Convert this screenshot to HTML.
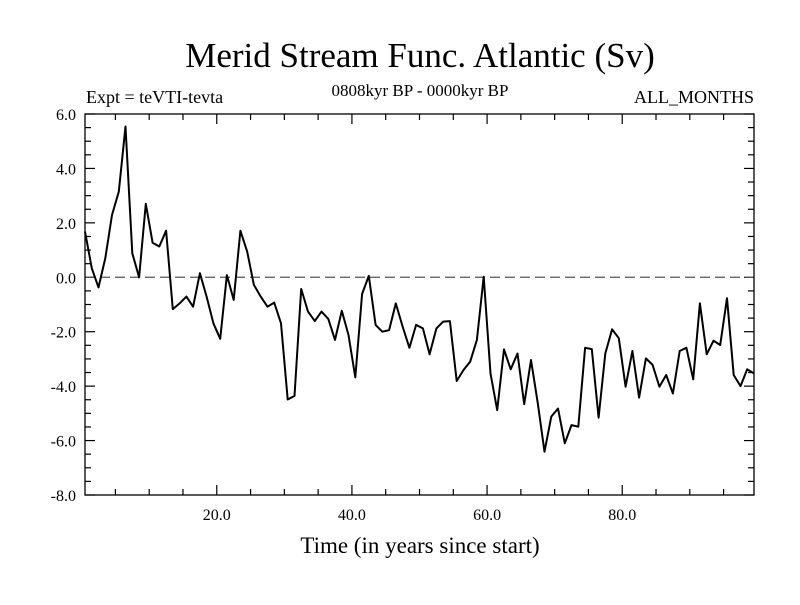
<!DOCTYPE html>
<html><head><meta charset="utf-8"><style>
body{margin:0;background:#fff}
svg text{font-family:"Liberation Serif",serif;fill:#000}
</style></head><body>
<svg width="800" height="600" xmlns="http://www.w3.org/2000/svg">
<text x="420" y="67" font-size="35" text-anchor="middle">Merid Stream Func. Atlantic (Sv)</text>
<text x="86" y="103" font-size="18">Expt = teVTI-tevta</text>
<text x="420" y="96" font-size="17" text-anchor="middle">0808kyr BP - 0000kyr BP</text>
<text x="754" y="103" font-size="18" text-anchor="end">ALL_MONTHS</text>
<text x="420" y="553" font-size="23" text-anchor="middle">Time (in years since start)</text>
<g id="axes"></g>
<line id="zero" stroke="#555" stroke-width="1.3" stroke-dasharray="10,5"/>
<path id="series" fill="none" stroke="#000" stroke-width="2" stroke-linejoin="round"/>
<rect x="85" y="114" width="669" height="381" fill="none" stroke="#000" stroke-width="1.3"/>
</svg>
<script>
const years = [];
for (let i = 0; i < 100; i++) years.push(i + 0.5);
const values = [1.68,0.33,-0.37,0.7,2.29,3.15,5.54,0.88,0.0,2.7,1.27,1.13,1.71,-1.17,-0.96,-0.71,-1.08,0.15,-0.71,-1.69,-2.26,0.08,-0.83,1.71,0.94,-0.28,-0.71,-1.08,-0.93,-1.69,-4.49,-4.36,-0.43,-1.26,-1.61,-1.26,-1.53,-2.3,-1.23,-2.12,-3.68,-0.61,0.05,-1.75,-2.0,-1.94,-0.96,-1.81,-2.59,-1.75,-1.88,-2.83,-1.88,-1.63,-1.61,-3.81,-3.41,-3.1,-2.3,0.02,-3.53,-4.88,-2.65,-3.38,-2.8,-4.66,-3.04,-4.63,-6.41,-5.12,-4.82,-6.1,-5.43,-5.49,-2.59,-2.64,-5.16,-2.8,-1.91,-2.24,-4.02,-2.71,-4.42,-2.98,-3.22,-4.02,-3.59,-4.27,-2.71,-2.59,-3.75,-0.96,-2.83,-2.33,-2.49,-0.77,-3.59,-4.0,-3.38,-3.53];
const yTicks = [6,4,2,0,-2,-4,-6,-8];
const yTickLabels = ["6.0","4.0","2.0","0.0","-2.0","-4.0","-6.0","-8.0"];
const xTicks = [20,40,60,80];
const xTickLabels = ["20.0","40.0","60.0","80.0"];
const X0=85,X1=754,Y0=114,Y1=495,XMIN=0.5,XMAX=99.5,YMIN=-8,YMAX=6;
const sx=v=>X0+(v-XMIN)/(XMAX-XMIN)*(X1-X0);
const sy=v=>Y1-(v-YMIN)/(YMAX-YMIN)*(Y1-Y0);
const NS="http://www.w3.org/2000/svg";
const ax=document.getElementById('axes');
function ln(x1,y1,x2,y2,name){const l=document.createElementNS(NS,'line');
l.setAttribute('x1',x1);l.setAttribute('y1',y1);l.setAttribute('x2',x2);l.setAttribute('y2',y2);
l.setAttribute('stroke','#000');l.setAttribute('stroke-width','1.2');


ax.appendChild(l);}
for(let v=-8;v<=6.001;v+=0.5){const y=sy(v);const major=Math.abs(v/2-Math.round(v/2))<1e-6;const L=major?10:6;
ln(X0,y,X0+L,y,'y-tick');ln(X1,y,X1-L,y,'y-tick');}
for(let v=5;v<100;v+=5){const x=sx(v);const L=(v%20===0)?10:6;ln(x,Y1,x,Y1-L,'x-tick');ln(x,Y0,x,Y0+L,'x-tick');}
yTicks.forEach((v,i)=>{const t=document.createElementNS(NS,'text');t.setAttribute('x',76);t.setAttribute('y',sy(v)+6);
t.setAttribute('font-size','16');t.setAttribute('text-anchor','end');t.textContent=yTickLabels[i];


ax.appendChild(t);});
xTicks.forEach((v,i)=>{const t=document.createElementNS(NS,'text');t.setAttribute('x',sx(v));t.setAttribute('y',520);
t.setAttribute('font-size','16');t.setAttribute('text-anchor','middle');t.textContent=xTickLabels[i];


ax.appendChild(t);});
const z=document.getElementById('zero');z.setAttribute('x1',X0);z.setAttribute('x2',X1);z.setAttribute('y1',sy(0));z.setAttribute('y2',sy(0));
document.getElementById('series').setAttribute('d',values.map((v,i)=>(i?'L':'M')+sx(years[i]).toFixed(1)+','+sy(v).toFixed(1)).join(''));
</script>
</body></html>
